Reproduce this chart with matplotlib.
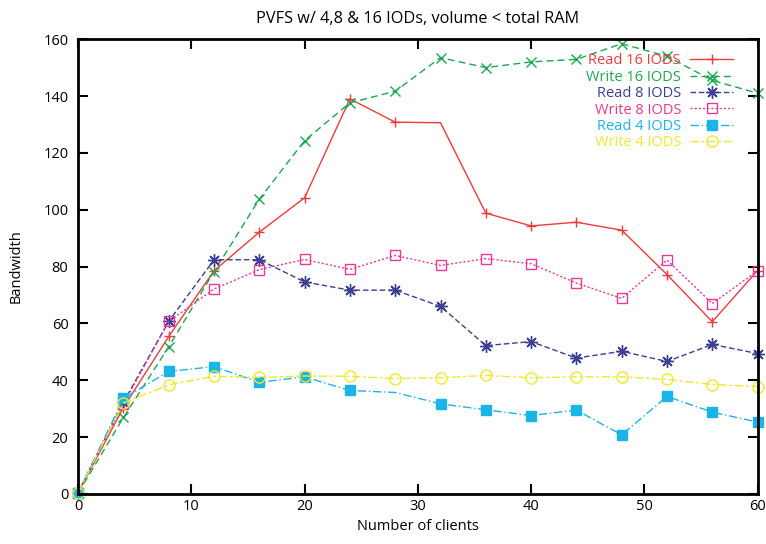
import numpy as np
import matplotlib
matplotlib.use('Agg')
import matplotlib.pyplot as plt

plt.rcParams['font.family'] = ['Open Sans', 'DejaVu Sans']

clients = [0, 4, 8, 12, 16, 20, 24, 28, 32, 36, 40, 44, 48, 52, 56, 60]

read16 = [0.5, 30.4, 55.4, 78.5, 92.1, 104.2, 139, 130.8, 130.6, 98.8, 94.3, 95.6, 92.8, 77.2, 60.6, 78.6]
write16 = [0.3, 26.9, 51.8, 78.2, 103.7, 124.3, 137.6, 141.7, 153.5, 150, 152, 152.9, 158.4, 154, 145.5, 141]
read8 = [0.5, 32.3, 60.7, 82.4, 82.4, 74.6, 71.7, 71.7, 66, 52.2, 53.6, 47.8, 50.2, 46.6, 52.6, 49.4]
write8 = [0.5, 31.6, 60.7, 72.1, 78.9, 82.5, 79, 83.9, 80.4, 82.8, 81, 74.2, 68.8, 82.3, 67, 78.5]
read4 = [0.5, 33.6, 43.1, 44.8, 39.3, 41.2, 36.4, 35.7, 31.7, 29.6, 27.6, 29.5, 20.8, 34.3, 28.8, 25.3]
write4 = [0.5, 32, 38.4, 41.4, 41, 41.5, 41.4, 40.6, 40.9, 41.7, 40.9, 41.2, 41.2, 40.3, 38.5, 37.8]

fig = plt.figure(figsize=(7.66, 5.44), dpi=100)
ax = fig.add_axes([0.102, 0.092, 0.887, 0.836])

ms = 7
ax.plot(clients, read16, color='#ee3b3b', ls='-', lw=1, marker='+', ms=ms, mew=1,
        markevery=[i for i in range(16) if i != 8], clip_on=False, label='Read 16 IODS')
ax.plot(clients, write16, color='#1aa850', ls=(0, (5, 3)), lw=1, marker='x', ms=ms, mew=1,
        clip_on=False, label='Write 16 IODS')
ax.plot(clients, read8, color='#3b3f96', ls=(0, (4, 2)), lw=1, marker=(8, 2, 0), ms=ms + 2, mew=1,
        clip_on=False, label='Read 8 IODS')
ax.plot(clients, write8, color='#ec3895', ls=(0, (1.5, 1.5)), lw=1, marker='s', ms=ms, mew=1,
        mfc='none', clip_on=False, label='Write 8 IODS')
ax.plot(clients, read4, color='#1ab4e8', ls=(0, (6, 2, 1, 2)), lw=1, marker='s', ms=ms, mew=1,
        markevery=[i for i in range(16) if i != 7], clip_on=False, label='Read 4 IODS')
ax.plot(clients, write4, color='#f2e82a', ls=(0, (6, 2, 2, 2)), lw=1, marker='o', ms=ms + 1, mew=1,
        mfc='none', clip_on=False, label='Write 4 IODS')

ax.set_xlim(0, 60)
ax.set_ylim(0, 160)
ax.set_xticks(range(0, 61, 10))
ax.set_yticks(range(0, 161, 20))
ax.tick_params(direction='in', length=7, width=1.5, top=True, right=True, labelsize=10.5)
ax.tick_params(axis='y', pad=7)
for s in ax.spines.values():
    s.set_linewidth(2)
ax.set_xlabel('Number of clients', fontsize=10.5, labelpad=4)
ax.set_ylabel('Bandwidth', fontsize=10.5, labelpad=14)
ax.set_title('PVFS w/ 4,8 & 16 IODs, volume < total RAM', fontsize=11.7, pad=12)

leg = ax.legend(loc='upper right', bbox_to_anchor=(0.973, 0.982), frameon=False, markerfirst=False,
                labelcolor='linecolor', fontsize=10.5, handlelength=3.0, handletextpad=0.6,
                labelspacing=0.1, borderaxespad=0)

fig.savefig('out.png', dpi=100)
